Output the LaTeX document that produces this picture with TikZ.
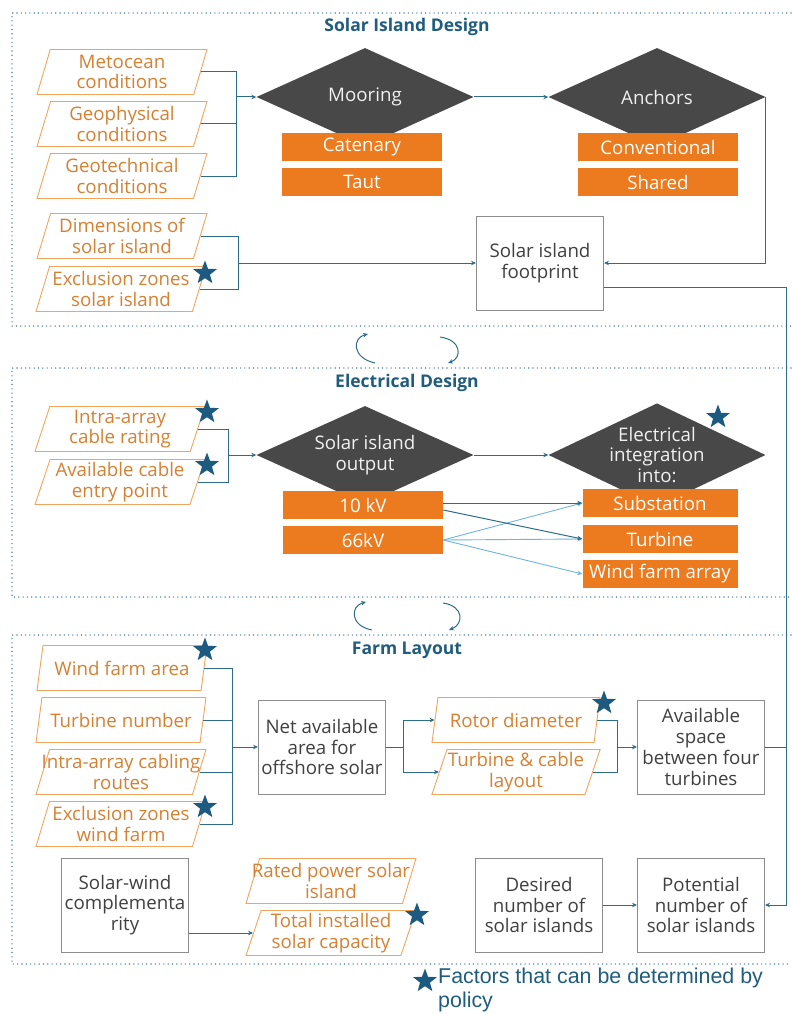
\documentclass[tikz,border=0pt]{standalone}
\usepackage{fontspec}
\setmainfont{Open Sans}
\newfontfamily\legendfont{Liberation Sans}
\usepackage{xcolor}
\usetikzlibrary{
    shapes.geometric,
    arrows.meta,
    calc
}
\definecolor{secline}{RGB}{95,140,170}
\definecolor{titleblue}{RGB}{31,92,125}
\definecolor{linkblue}{RGB}{46,108,140}
\definecolor{lightblue}{RGB}{110,180,220}
\definecolor{paraline}{RGB}{240,165,95}
\definecolor{paratext}{RGB}{214,128,50}
\definecolor{barorange}{RGB}{236,122,30}
\definecolor{diagray}{RGB}{72,72,72}
\definecolor{diatext}{RGB}{240,240,240}
\definecolor{boxline}{RGB}{140,140,140}
\definecolor{boxtext}{RGB}{64,64,64}
\definecolor{starblue}{RGB}{28,90,128}

\begin{document}
\begin{tikzpicture}[x=1pt, y=-1pt, >={Stealth[length=5pt,width=4.5pt]},
    every node/.style={font=\fontsize{18.7}{20.8}\selectfont},
    para/.style={shape=trapezium, trapezium left angle=70, trapezium right angle=110,
        trapezium stretches body=true, draw=paraline, line width=0.9pt, fill=white,
        text=paratext, minimum width=170pt, minimum height=45pt, inner sep=1pt, align=center},
    infobox/.style={draw=boxline, line width=1pt, fill=white, text=boxtext,
        minimum width=127pt, minimum height=94pt, inner sep=2pt, align=center},
    bar/.style={fill=barorange, text=white, minimum width=160pt, minimum height=28pt, inner sep=0pt},
    dia/.style={shape=diamond, fill=diagray, text=diatext, minimum width=217pt,
        minimum height=98pt, inner sep=-12pt, align=center},
    policy/.style={star, star points=5, star point ratio=2.4, fill=starblue, minimum size=25pt, inner sep=0pt},
    section/.style={draw=secline, line width=1.6pt, dash pattern=on 0pt off 4.3pt, line cap=round},
    heading/.style={font=\bfseries\fontsize{17.5}{20}\selectfont, text=titleblue},
    link/.style={draw=linkblue, line width=1pt},
    lightlink/.style={draw=lightblue, line width=0.9pt}]
    \useasboundingbox (0,0) rectangle (792,1014);

    % section frames
    \draw[section] (791,13) -- (12,13) -- (12,326) -- (791,326);
    \draw[section] (791,368) -- (12,368) -- (12,597) -- (791,597);
    \draw[section] (791,635) -- (12,635) -- (12,964) -- (791,964);
    \node[heading] (t1) at (407,27) {Solar Island Design};
    \node[heading] (t2) at (407,383) {Electrical Design};
    \node[heading] (t3) at (407,650) {Farm Layout};

    % solar island design
    \node[para] (met) at (122,72) {Metocean\\conditions};
    \node[para] (geop) at (122,124) {Geophysical\\conditions};
    \node[para] (geot) at (122,176) {Geotechnical\\conditions};
    \node[para] (dim) at (122,236) {Dimensions of\\solar island};
    \node[para] (exsi) at (121,289) {Exclusion zones\\solar island};
    \node[dia] (moor) at (365,97) {Mooring};
    \node[dia] (anch) at (657,97) {Anchors};
    \node[bar] (cat) at (362,147) {Catenary};
    \node[bar] (taut) at (362,182) {Taut};
    \node[bar] (conv) at (658,147) {Conventional};
    \node[bar] (shar) at (658,182) {Shared};
    \node[infobox] (foot) at (540,263) {Solar island\\footprint};

    \coordinate (bus1) at (236,97);
    \coordinate (bus2) at (238,263);
    \draw[link] (met.east) -| (bus1);
    \draw[link] (geot.east) -| (bus1);
    \draw[link] (geop.east) -- (geop.east -| bus1);
    \draw[link,->] (bus1) -- (moor.west);
    \draw[link,->] (moor.east) -- (anch.west);
    \draw[link,->] (anch.east) |- (foot.east);
    \draw[link] (dim.east) -| (bus2);
    \draw[link] (exsi.east) -| (bus2);
    \draw[link,->] (bus2) -- (foot.west);

    % cycle arrows
    \coordinate (c1a) at (375,363);
    \coordinate (c1b) at (368,334);
    \coordinate (c2a) at (440,337);
    \coordinate (c2b) at (448,363);
    \coordinate (c3a) at (372,630);
    \coordinate (c3b) at (366,602);
    \coordinate (c4a) at (443,603);
    \coordinate (c4b) at (449,630);
    \draw[link,->] (c1a) .. controls (352,358) and (352,338) .. (c1b);
    \draw[link,->] (c2a) .. controls (462,340) and (462,358) .. (c2b);
    \draw[link,->] (c3a) .. controls (350,626) and (350,606) .. (c3b);
    \draw[link,->] (c4a) .. controls (464,606) and (464,624) .. (c4b);

    % electrical design
    \node[para] (rating) at (120,429) {Intra-array\\cable rating};
    \node[para] (entry) at (120,482) {Available cable\\entry point};
    \node[dia] (out) at (365,455) {Solar island\\output};
    \node[dia] (integ) at (657,455) {Electrical\\integration\\into:};
    \node[bar] (kv10) at (363,505) {10 kV};
    \node[bar] (kv66) at (363,540) {66kV};
    \node[bar, minimum width=155pt] (subst) at (660,503) {Substation};
    \node[bar, minimum width=155pt] (turb) at (660,539) {Turbine};
    \node[bar, minimum width=155pt] (wfa) at (660,574) {Wind farm array};

    \coordinate (bus3) at (228,455);
    \draw[link] (rating.east) -| (bus3);
    \draw[link] (entry.east) -| (bus3);
    \draw[link,->] (bus3) -- (out.west);
    \draw[link,->] (out.east) -- (integ.west);
    \draw[lightlink,->] (kv66.east) -- (subst.west);
    \draw[lightlink,->] (kv66.east) -- (turb.west);
    \draw[lightlink,->] (kv66.east) -- (wfa.west);
    \draw[link,->] ([yshift=2pt]kv10.east) -- (subst.west);
    \draw[link,->] ([yshift=-5pt]kv10.east) -- (turb.west);

    % farm layout
    \node[para] (wfarea) at (122,668) {Wind farm area};
    \node[para] (turbnum) at (121,720) {Turbine number};
    \node[para] (cabling) at (121,772) {\makebox[0pt]{Intra-array cabling}\\routes};
    \node[para] (exwf) at (121,824) {Exclusion zones\\wind farm};
    \node[infobox] (net) at (322,747) {Net available\\area for\\offshore solar};
    \node[para, minimum width=168pt] (rotor) at (516,720) {Rotor diameter};
    \node[para, minimum width=168pt] (layout) at (516,772) {Turbine \& cable\\layout};
    \node[infobox] (avail) at (701,747) {Available\\space\\between four\\turbines};
    \node[infobox] (swc) at (125,905) {Solar-wind\\complementa\\rity};
    \node[para] (rated) at (331,881) {\makebox[0pt]{Rated power solar}\\island};
    \node[para] (total) at (331,933) {Total installed\\solar capacity};
    \node[infobox] (desired) at (539,905) {Desired\\number of\\solar islands};
    \node[infobox] (pot) at (701,905) {Potential\\number of\\solar islands};

    \coordinate (bus4) at (232,747);
    \coordinate (bus5) at (403,747);
    \coordinate (bus6) at (617,747);
    \coordinate (rail) at (786,500);
    \draw[link] (wfarea.east) -| (bus4);
    \draw[link] (exwf.east) -| (bus4);
    \draw[link] (turbnum.east) -- (turbnum.east -| bus4);
    \draw[link] (cabling.east) -- (cabling.east -| bus4);
    \draw[link,->] (bus4) -- (net.west);
    \draw[link] (net.east) -- (bus5);
    \draw[link,->] (bus5) |- (rotor.west);
    \draw[link,->] (bus5) |- (layout.west);
    \draw[link] (rotor.east) -| (bus6);
    \draw[link] (layout.east) -| (bus6);
    \draw[link,->] (bus6) -- (avail.west);
    \draw[link,->] ([yshift=-24pt]foot.east) -| (rail) |- (pot.east);
    \draw[link] (avail.east) -- (avail.east -| rail);
    \draw[link,->] (swc.east |- total.west) -- (total.west);
    \draw[link,->] (desired.east) -- (pot.west);

    % policy stars
    \node[policy] (s1) at (205,273) {};
    \node[policy] (s2) at (207,412) {};
    \node[policy] (s3) at (207,465) {};
    \node[policy] (s4) at (718,417) {};
    \node[policy] (s5) at (205,650) {};
    \node[policy] (s6) at (604,703) {};
    \node[policy] (s7) at (205,807) {};
    \node[policy] (s8) at (417,915) {};

    % legend
    \node[policy] (legstar) at (425,981) {};
    \node[anchor=north west, align=left, text=titleblue, inner sep=0pt,
        font=\legendfont\fontsize{21.4}{24}\selectfont] (legtext) at (438,968)
        {Factors that can be determined by\\policy};
\end{tikzpicture}
\end{document}
